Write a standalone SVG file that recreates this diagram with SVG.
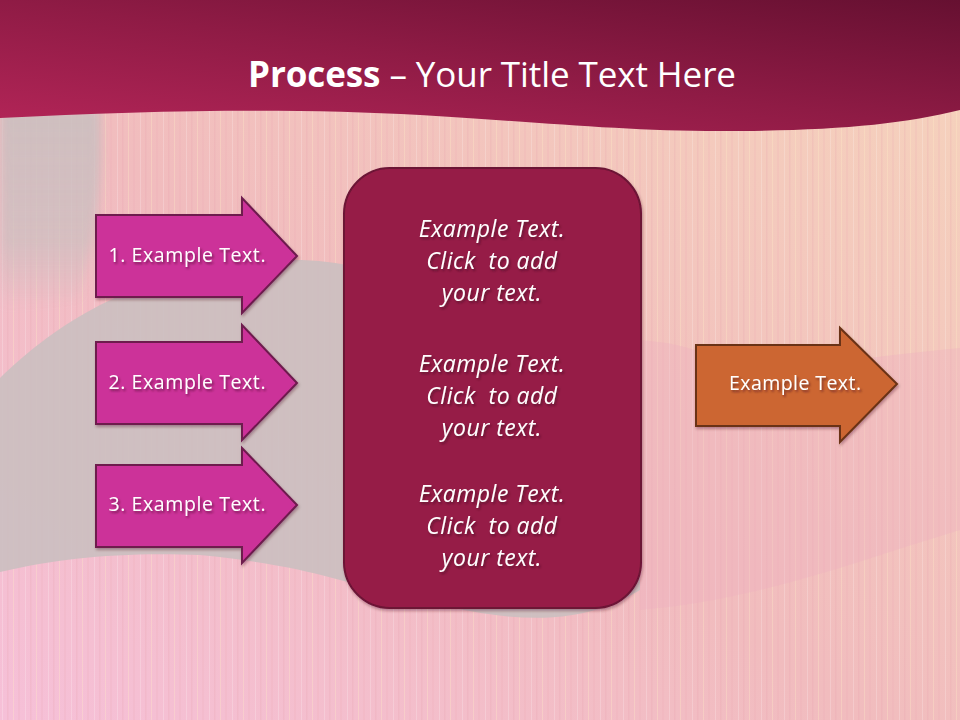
<svg xmlns="http://www.w3.org/2000/svg" width="960" height="720" viewBox="0 0 960 720">
<defs>
<linearGradient id="bg" x1="0" y1="1" x2="1" y2="0">
<stop offset="0" stop-color="#f6c0d8"/>
<stop offset="0.45" stop-color="#f1bcbe"/>
<stop offset="1" stop-color="#f6d4bc"/>
</linearGradient>
<linearGradient id="band" x1="0" y1="1" x2="1" y2="0">
<stop offset="0" stop-color="#b42558"/>
<stop offset="0.5" stop-color="#8f1b45"/>
<stop offset="1" stop-color="#661031"/>
</linearGradient>
<linearGradient id="greyfade" x1="0" y1="0" x2="0" y2="1">
<stop offset="0" stop-color="#cbbfc0" stop-opacity="1"/>
<stop offset="0.65" stop-color="#cbbfc0" stop-opacity="0.8"/>
<stop offset="1" stop-color="#cbbfc0" stop-opacity="0"/>
</linearGradient>
<pattern id="streaks" width="23" height="720" patternUnits="userSpaceOnUse">
<rect x="2" y="0" width="1" height="720" fill="#ffffff" opacity="0.2"/>
<rect x="7" y="0" width="1.5" height="720" fill="#e89aa8" opacity="0.2"/>
<rect x="13" y="0" width="1" height="720" fill="#fff0c8" opacity="0.3"/>
<rect x="18" y="0" width="2" height="720" fill="#e9a0b0" opacity="0.15"/>
</pattern>
<filter id="blur" x="-20%" y="-20%" width="140%" height="140%">
<feGaussianBlur stdDeviation="5"/>
</filter>
<filter id="ts" x="-10%" y="-30%" width="120%" height="160%">
<feDropShadow dx="1.5" dy="2" stdDeviation="1.2" flood-color="#3a0a20" flood-opacity="0.55"/>
</filter>
<filter id="ss" x="-10%" y="-10%" width="120%" height="120%">
<feDropShadow dx="1" dy="2" stdDeviation="1.5" flood-color="#40101f" flood-opacity="0.35"/>
</filter>
</defs>
<style>
.arrow{fill:#cc3399;stroke:#6e1a4e;stroke-width:2;stroke-linejoin:miter}
.orange{fill:#cc6633;stroke:#6b3214;stroke-width:2}
.box{fill:#961e46;stroke:#6c1236;stroke-width:2}
.lbl{font-family:"Open Sans","Liberation Sans",sans-serif;font-size:19.5px;fill:#ffffff;text-anchor:middle}
.it{font-family:"Open Sans","Liberation Sans",sans-serif;font-size:23px;font-style:italic;fill:#ffffff;text-anchor:middle;letter-spacing:0.5px;white-space:pre}
.title{font-family:"Open Sans","Liberation Sans",sans-serif;font-size:35px;fill:#ffffff;text-anchor:middle}
</style>

<g id="background">
<rect x="0" y="0" width="960" height="720" fill="url(#bg)"/>
<rect x="0" y="0" width="960" height="720" fill="url(#streaks)"/>
<path d="M0,110 H100 C104,180 96,240 80,300 L0,310 Z" fill="url(#greyfade)" filter="url(#blur)" opacity="0.9"/>
<path d="M0,378 C50,330 120,280 230,265 C280,258 320,258 360,268 L640,300 L640,590 C560,640 470,610 400,597 C340,580 300,565 200,555 C120,552 60,558 0,572 Z" fill="#cbbfc0" opacity="0.9"/>
<path d="M640,340 C670,342 690,348 700,352 L840,362 C880,356 920,352 960,348 L960,530 C860,560 760,600 640,610 Z" fill="#eeb0c0" opacity="0.35"/>
<path d="M0,118 C150,110 300,108 420,115 C540,122 620,131 720,131 C830,131 900,125 960,110 L960,0 L0,0 Z" fill="url(#band)"/>
</g>

<g id="title">
<text class="title" x="492" y="87" textLength="488" lengthAdjust="spacing"><tspan font-weight="bold">Process</tspan> – Your Title Text Here</text>
</g>

<g id="connectors"></g>

<g id="step1">
<path class="arrow" filter="url(#ss)" d="M96,215 H242 V198 L297,256 L242,313 V297 H96 Z"/>
<text class="lbl" filter="url(#ts)" x="187" y="262" textLength="157" lengthAdjust="spacing">1. Example Text.</text>
</g>
<g id="step2">
<path class="arrow" filter="url(#ss)" d="M96,342 H242 V325 L297,383 L242,440 V424 H96 Z"/>
<text class="lbl" filter="url(#ts)" x="187" y="389" textLength="157" lengthAdjust="spacing">2. Example Text.</text>
</g>
<g id="step3">
<path class="arrow" filter="url(#ss)" d="M96,465 H242 V448 L297,505 L242,563 V547 H96 Z"/>
<text class="lbl" filter="url(#ts)" x="187" y="511" textLength="157" lengthAdjust="spacing">3. Example Text.</text>
</g>

<g id="center">
<rect class="box" filter="url(#ss)" x="344" y="168" width="297" height="440" rx="46" ry="46"/>
<g filter="url(#ts)">
<text class="it" x="492" y="237">Example Text.</text>
<text class="it" x="492" y="269">Click  to add</text>
<text class="it" x="492" y="301">your text.</text>
<text class="it" x="492" y="372">Example Text.</text>
<text class="it" x="492" y="404">Click  to add</text>
<text class="it" x="492" y="436">your text.</text>
<text class="it" x="492" y="502">Example Text.</text>
<text class="it" x="492" y="534">Click  to add</text>
<text class="it" x="492" y="566">your text.</text>
</g>
</g>

<g id="result">
<path class="orange" filter="url(#ss)" d="M696,345 H840 V328 L897,384 L840,442 V426 H696 Z"/>
<text class="lbl" filter="url(#ts)" x="795" y="390" textLength="132" lengthAdjust="spacing">Example Text.</text>
</g>
</svg>
